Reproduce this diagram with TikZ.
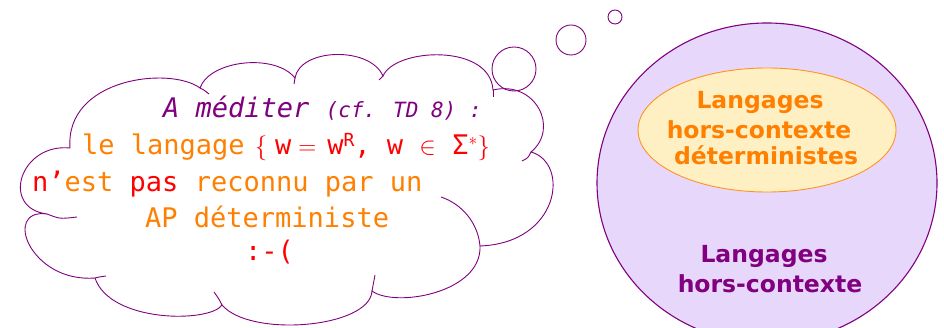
\documentclass[tikz,border=0pt]{standalone}
\usepackage{fontspec}
\usepackage{xcolor}
\usepackage{tikz}
\usetikzlibrary{shapes.geometric, positioning}
\newfontfamily\monofont{DejaVu Sans Mono}
\newfontfamily\setsfont{DejaVu Sans}
\definecolor{cfpurple}{HTML}{800080}
\definecolor{cforange}{HTML}{FF8000}
\definecolor{cfred}{HTML}{FF0000}
\definecolor{lilas}{HTML}{E6D7FB}
\definecolor{creme}{HTML}{FFF0C4}

\begin{document}
\begin{tikzpicture}[x=1pt, y=1pt,
    nuage/.style={draw=cfpurple, line width=0.9pt},
    bulle/.style={draw=cfpurple, line width=0.9pt, circle, inner sep=0pt},
    ensemble/.style={draw=cfpurple, fill=lilas, line width=1.1pt, ellipse, inner sep=0pt},
    ensdet/.style={draw=cforange!85, fill=creme, line width=0.9pt, ellipse, inner sep=0pt},
    ligne/.style={anchor=base west, inner sep=0pt, font=\monofont\fontsize{27}{27}\selectfont},
    titre/.style={anchor=base, inner sep=0pt, font=\setsfont\bfseries\fontsize{23.5}{23.5}\selectfont}
  ]
  \fill[white] (0,0) rectangle (944,328);
  \useasboundingbox (0,0) rectangle (944,328);

  \node [ensemble, minimum width=340, minimum height=320] (hc) at (767,145) {};
  \node [ensdet, minimum width=258, minimum height=124] (hcd) at (767,198) {};
  \node [titre, cforange] (hcd1) at (760,219) {Langages};
  \node [titre, cforange] (hcd2) at (759,189) {hors-contexte};
  \node [titre, cforange] (hcd3) at (766,163) {déterministes};
  \node [titre, cfpurple] (hc1) at (764,65) {Langages};
  \node [titre, cfpurple] (hc2) at (770,35) {hors-contexte};

  \coordinate (p0) at (47,114);
  \coordinate (p1) at (70,180);
  \coordinate (p2) at (200,240);
  \coordinate (p3) at (295,250);
  \coordinate (p4) at (383,252);
  \coordinate (p5) at (493,238);
  \coordinate (p6) at (531,176);
  \coordinate (p7) at (480,82);
  \coordinate (p8) at (372,37);
  \coordinate (p9) at (222,23);
  \coordinate (p10) at (95,50);
  \draw [nuage] (p0) .. controls (0,120) and (20,185) .. (p1)
    .. controls (65,250) and (170,262) .. (p2)
    .. controls (210,268) and (275,275) .. (p3)
    .. controls (300,280) and (370,282) .. (p4)
    .. controls (395,280) and (490,285) .. (p5)
    .. controls (535,248) and (560,200) .. (p6)
    .. controls (570,165) and (560,85) .. (p7)
    .. controls (482,35) and (395,20) .. (p8)
    .. controls (370,0) and (250,-10) .. (p9)
    .. controls (210,5) and (110,5) .. (p10)
    .. controls (30,45) and (2,120) .. (p0);
  \draw [nuage] (p0) .. controls (60,109) .. (77,111);
  \draw [nuage] (p2) .. controls (204,238) .. (209,234);
  \draw [nuage] (p3) .. controls (294,247) .. (294,244);
  \draw [nuage] (p4) -- (379,248);
  \draw [nuage] (p5) -- (493,231);
  \draw [nuage] (p6) .. controls (528,170) .. (522,167);
  \draw [nuage] (441,131) .. controls (462,124) and (478,105) .. (p7);
  \draw [nuage] (p8) .. controls (374,45) .. (375,53);
  \draw [nuage] (p9) .. controls (219,29) .. (214,36);
  \draw [nuage] (p10) .. controls (99,51) .. (106,52);

  \node [bulle, minimum size=44] (b1) at (514,259) {};
  \node [bulle, minimum size=30] (b2) at (571,288) {};
  \node [bulle, minimum size=14] (b3) at (615,311) {};

  \node [ligne, cfpurple] (l1) at (163,210) {\itshape A méditer {\fontsize{21}{21}\selectfont (cf. TD 8) :}};
  \node [ligne, cforange] (l2) at (82,173) {le langage\kern10pt{\color{cfred}$\{$\kern8pt w\kern7pt$=$\kern11pt w\raisebox{8pt}{\fontsize{18}{18}\selectfont R}, w $\in$ Σ$^{*}\}$}};
  \node [ligne, cforange] (l3) at (32,136) {{\color{cfred}n’}est {\color{cfred}pas} reconnu par un};
  \node [ligne, cforange] (l4) at (145,100) {AP déterministe};
  \node [ligne, cfred] (l5) at (245,67) {:-(};
\end{tikzpicture}
\end{document}
